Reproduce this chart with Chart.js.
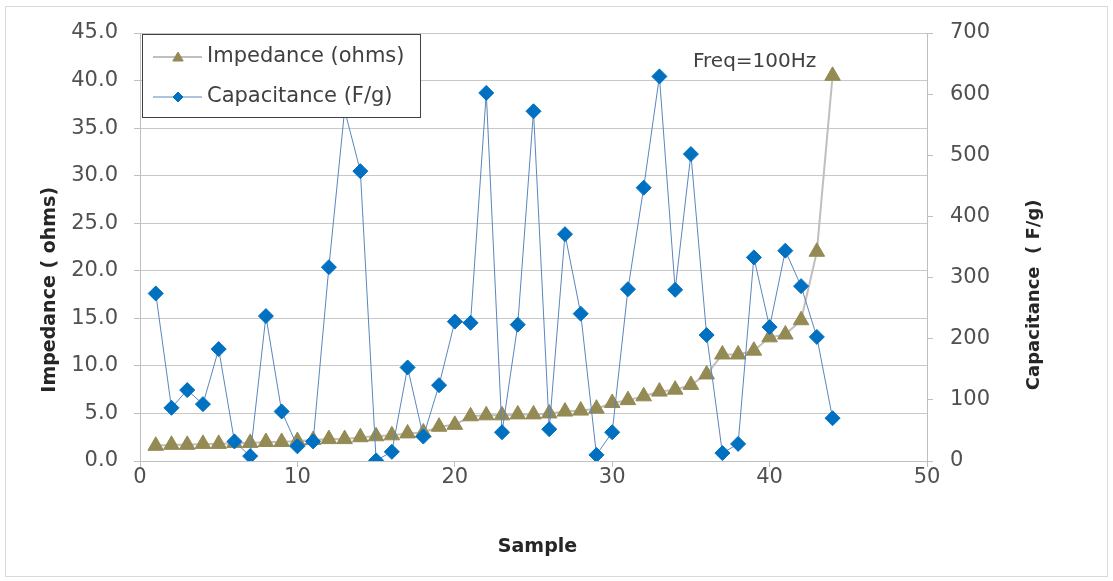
<!DOCTYPE html>
<html>
<head>
<meta charset="utf-8">
<script src="https://cdn.jsdelivr.net/npm/chart.js@4.4.1/dist/chart.umd.min.js"></script>
<style>
  html, body { margin: 0; padding: 0; background: #fff; }
  #wrap { width: 1113px; height: 581px; }
</style>
</head>
<body>
<div id="wrap"><canvas id="myChart"></canvas></div>
<script>
// values
const samples = [1, 2, 3, 4, 5, 6, 7, 8, 9, 10, 11, 12, 13, 14, 15, 16, 17, 18, 19, 20, 21, 22,
  23, 24, 25, 26, 27, 28, 29, 30, 31, 32, 33, 34, 35, 36, 37, 38, 39, 40, 41, 42, 43, 44];
const impedance = [1.6, 1.7, 1.7, 1.8, 1.8, 1.9, 1.9, 2.0, 2.0, 2.1, 2.2, 2.3, 2.3, 2.5, 2.6, 2.7,
  2.9, 3.0, 3.6, 3.8, 4.7, 4.8, 4.8, 4.9, 4.9, 5.0, 5.2, 5.3, 5.5, 6.1, 6.4, 6.8, 7.3, 7.5, 8.0,
  9.1, 11.2, 11.2, 11.6, 13.0, 13.3, 14.8, 22.0, 40.5];
const capacitance = [274, 87, 116, 93, 183, 32, 8, 237, 81, 24, 32, 317, 574, 474, 1, 15, 153, 40,
  124, 228, 226, 602, 47, 223, 572, 52, 371, 241, 10, 47, 281, 447, 629, 280, 502, 206, 13, 28,
  333, 219, 344, 286, 203, 70];

const xTicks = [0, 10, 20, 30, 40, 50];
const impedanceTicks = [0, 5, 10, 15, 20, 25, 30, 35, 40, 45];
const capacitanceTicks = [0, 100, 200, 300, 400, 500, 600, 700];

const FONT = '"DejaVu Sans", "Noto Sans", sans-serif';
const tickFont = { family: FONT, size: 21 };
const TICK_COLOR = '#505050';
const IMP_COLOR = '#948a54';
const CAP_COLOR = '#0070c0';

// frame, axis titles, note and the boxed legend
const decorations = {
  id: 'decorations',
  beforeDraw(chart) {
    const ctx = chart.ctx;
    ctx.save();
    ctx.fillStyle = '#fff';
    ctx.fillRect(0, 0, chart.width, chart.height);
    ctx.strokeStyle = '#d9d9d9';
    ctx.lineWidth = 1;
    ctx.strokeRect(5.5, 6.5, 1102, 570);
    ctx.restore();
  },
  afterDatasetsDraw(chart) {
    const { ctx, chartArea: a } = chart;
    ctx.save();
    // legend box
    const bx = a.left + 2, by = a.top + 1, bw = 278, bh = 83;
    ctx.fillStyle = '#fff';
    ctx.fillRect(bx, by, bw, bh);
    ctx.strokeStyle = '#404040';
    ctx.lineWidth = 1;
    ctx.strokeRect(bx + 0.5, by + 0.5, bw, bh);
    const rows = [
      { text: 'Impedance (ohms)', line: '#bfbfbf', lw: 2, color: IMP_COLOR, style: 'triangle', r: 6 },
      { text: 'Capacitance (F/g)', line: '#5b86bd', lw: 1, color: CAP_COLOR, style: 'rectRot', r: 5 }
    ];
    rows.forEach((row, i) => {
      const y = by + 23 + i * 40;
      ctx.strokeStyle = row.line;
      ctx.lineWidth = row.lw;
      ctx.beginPath();
      ctx.moveTo(bx + 11, y);
      ctx.lineTo(bx + 60, y);
      ctx.stroke();
      ctx.fillStyle = row.color;
      ctx.strokeStyle = row.color;
      ctx.lineWidth = 1;
      Chart.helpers.drawPoint(ctx, { pointStyle: row.style, radius: row.r, rotation: 0, borderWidth: 1 },
        bx + 36, y + (row.style === 'triangle' ? 1 : 0));
      ctx.fillStyle = '#404040';
      ctx.font = '21px ' + FONT;
      ctx.textAlign = 'left';
      ctx.textBaseline = 'middle';
      ctx.fillText(row.text, bx + 65, y);
    });
    // note
    ctx.fillStyle = '#404040';
    ctx.font = '20px ' + FONT;
    ctx.fillText('Freq=100Hz', 693, a.top + 29);
    ctx.restore();
  },
  afterDraw(chart) {
    const { ctx, chartArea: a } = chart;
    const midY = a.top + (a.bottom - a.top) * 0.6;
    ctx.save();
    ctx.fillStyle = '#262626';
    ctx.textAlign = 'center';
    ctx.textBaseline = 'middle';
    ctx.font = 'bold 19px ' + FONT;
    ctx.fillText('Sample', (a.left + a.right) / 2 + 4, 547);
    ctx.save();
    ctx.translate(50, midY);
    ctx.rotate(-Math.PI / 2);
    ctx.fillText('Impedance ( ohms)', 0, 0);
    ctx.restore();
    ctx.font = 'bold 18px ' + FONT;
    ctx.translate(1034, midY + 5);
    ctx.rotate(-Math.PI / 2);
    ctx.fillText('Capacitance  ( F/g)', 0, 0);
    ctx.restore();
  }
};

const ctx = document.getElementById('myChart').getContext('2d');

new Chart(ctx, {
  type: 'scatter',
  data: {
    datasets: [
      {
        label: 'Capacitance (F/g)',
        yAxisID: 'y1',
        order: 0,
        showLine: true,
        data: samples.map((s, i) => ({ x: s, y: capacitance[i] })),
        borderColor: '#5b86bd',
        borderWidth: 1,
        pointStyle: 'rectRot',
        pointRadius: 7.5,
        pointBackgroundColor: CAP_COLOR,
        pointBorderColor: CAP_COLOR,
        pointBorderWidth: 1
      },
      {
        label: 'Impedance (ohms)',
        yAxisID: 'y',
        order: 1,
        showLine: true,
        data: samples.map((s, i) => ({ x: s, y: impedance[i] })),
        borderColor: '#bfbfbf',
        borderWidth: 2,
        pointStyle: 'triangle',
        pointRadius: 9,
        pointBackgroundColor: IMP_COLOR,
        pointBorderColor: IMP_COLOR,
        pointBorderWidth: 1
      }
    ]
  },
  options: {
    responsive: true,
    maintainAspectRatio: false,
    animation: false,
    events: [],
    layout: { padding: { top: 33, left: 0, right: 0, bottom: 0 } },
    plugins: {
      legend: { display: false },
      tooltip: { enabled: false }
    },
    scales: {
      x: {
        type: 'linear',
        min: 0,
        max: 50,
        afterBuildTicks: s => { s.ticks = xTicks.map(v => ({ value: v })); },
        afterFit: s => { s.height = 120; },
        border: { color: '#bfbfbf' },
        grid: { drawOnChartArea: false, tickLength: 6, color: '#bfbfbf' },
        ticks: { padding: -2, color: TICK_COLOR, font: tickFont, maxRotation: 0 }
      },
      y: {
        type: 'linear',
        position: 'left',
        min: 0,
        max: 45,
        afterBuildTicks: s => { s.ticks = impedanceTicks.map(v => ({ value: v })); },
        afterFit: s => { s.width = 140; },
        border: { color: '#bfbfbf' },
        grid: { color: '#c8c8c8', tickColor: '#bfbfbf', tickLength: 6 },
        ticks: { padding: 16, color: TICK_COLOR, font: tickFont, callback: v => v.toFixed(1) }
      },
      y1: {
        type: 'linear',
        position: 'right',
        min: 0,
        max: 700,
        afterBuildTicks: s => { s.ticks = capacitanceTicks.map(v => ({ value: v })); },
        afterFit: s => { s.width = 186; },
        border: { color: '#bfbfbf' },
        grid: { drawOnChartArea: false, color: '#bfbfbf', tickLength: 6 },
        ticks: { padding: 17, color: TICK_COLOR, font: tickFont }
      }
    }
  },
  plugins: [decorations]
});
</script>
</body>
</html>
